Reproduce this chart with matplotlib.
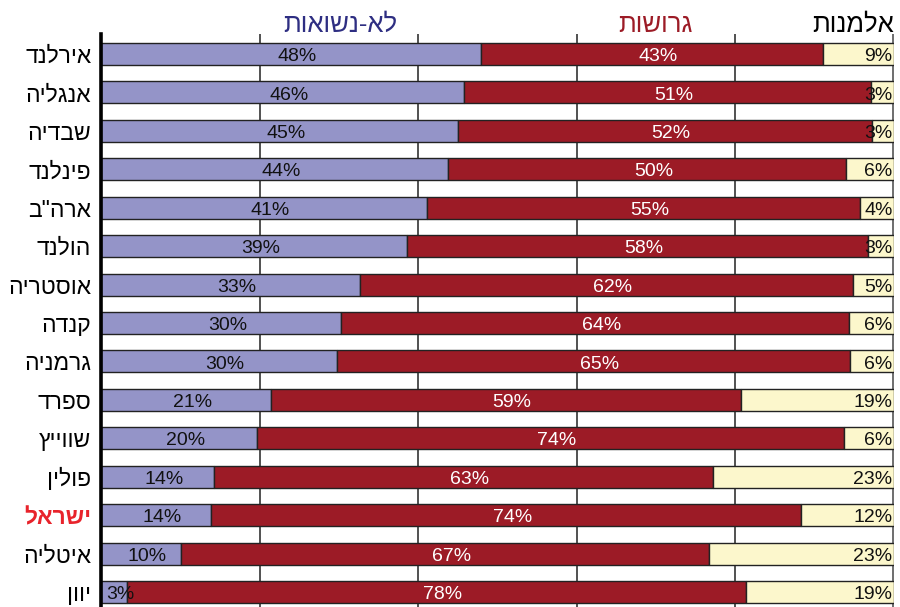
import matplotlib
matplotlib.use("Agg")
import matplotlib.pyplot as plt
import numpy as np

countries = ["אירלנד", "אנגליה", "שבדיה", "פינלנד", 'ארה"ב', "הולנד", "אוסטריה",
             "קנדה", "גרמניה", "ספרד", "שווייץ", "פולין", "ישראל", "איטליה", "יוון"]
never_married = [47.9, 45.8, 45.0, 43.8, 41.1, 38.6, 32.7, 30.3, 29.7, 21.4, 19.7, 14.2, 13.9, 10.1, 3.3]
divorced = [43.1, 51.3, 52.2, 50.1, 54.6, 58.1, 62.1, 64.0, 64.7, 59.3, 74.0, 63.0, 74.4, 66.6, 78.0]
widowed = [9.0, 2.9, 2.8, 6.1, 4.3, 3.3, 5.2, 5.7, 5.6, 19.3, 6.3, 22.8, 11.7, 23.3, 18.7]
headers = ["לא-נשואות", "גרושות", "אלמנות"]
highlight = "ישראל"

def vis(s):
    # matplotlib has no bidi support: reverse Hebrew for visual order
    return s[::-1]

plt.rcParams['font.family'] = ['Liberation Sans', 'DejaVu Sans']

W, H = 900, 607
fig = plt.figure(figsize=(W / 100, H / 100), dpi=100)
x0, x1, ytop = 101, 894, 34
ax = fig.add_axes([x0 / W, 0, (x1 - x0) / W, 1 - ytop / H])

n = len(countries)
y = np.arange(n)
nm = np.array(never_married)
dv = np.array(divorced)
wd = np.array(widowed)

c_blue = "#9494c8"
c_red = "#9c1b26"
c_yel = "#fcf7cc"
h = 0.57
ax.barh(y, nm, height=h, color=c_blue, edgecolor="#222222", linewidth=1, zorder=3)
ax.barh(y, dv, left=nm, height=h, color=c_red, edgecolor="#222222", linewidth=1, zorder=3)
ax.barh(y, wd, left=nm + dv, height=h, color=c_yel, edgecolor="#222222", linewidth=1, zorder=3)

fs_val = 14
dy = 0.07
for i in range(n):
    ax.text(nm[i] / 2 + 0.8, y[i] + dy, f"{round(nm[i])}%", ha="center", va="center",
            fontsize=fs_val, color="#111111", zorder=4)
    ax.text(nm[i] + dv[i] / 2 + 0.8, y[i] + dy, f"{round(dv[i])}%", ha="center", va="center",
            fontsize=fs_val, color="white", zorder=4)
    ax.text(99.8, y[i] + dy, f"{round(wd[i])}%", ha="right", va="center",
            fontsize=fs_val, color="#111111", zorder=4)

ax.set_xlim(0, 100)
row_px = 38.43
ax.set_ylim((H - 54) / row_px, -(54 - ytop) / row_px)

for gx in [20, 40, 60, 80]:
    ax.axvline(gx, color="#333333", linewidth=1.2, zorder=1)
ax.axvline(99.85, color="#555555", linewidth=1.2, zorder=1)

for s in ["top", "right", "bottom"]:
    ax.spines[s].set_visible(False)
ax.spines["left"].set_linewidth(2.6)
ax.spines["left"].set_color("black")
ax.spines["left"].set_zorder(5)

ax.set_xticks([])
ax.set_yticks(y)
ax.set_yticklabels([vis(c) for c in countries], fontsize=16.5)
ax.tick_params(axis="y", length=0, pad=7)
for lbl, c in zip(ax.get_yticklabels(), countries):
    if c == highlight:
        lbl.set_color("#e8232b")
        lbl.set_fontweight("bold")

fig.text(340 / W, 1 - 25 / H, vis(headers[0]), ha="center", va="center", fontsize=18.5,
         color="#2e2e82")
fig.text(655 / W, 1 - 25 / H, vis(headers[1]), ha="center", va="center", fontsize=18.5,
         color="#9c1b26")
fig.text(894 / W, 1 - 25 / H, vis(headers[2]), ha="right", va="center", fontsize=18.5,
         color="black")

fig.savefig("out.png", dpi=100)
